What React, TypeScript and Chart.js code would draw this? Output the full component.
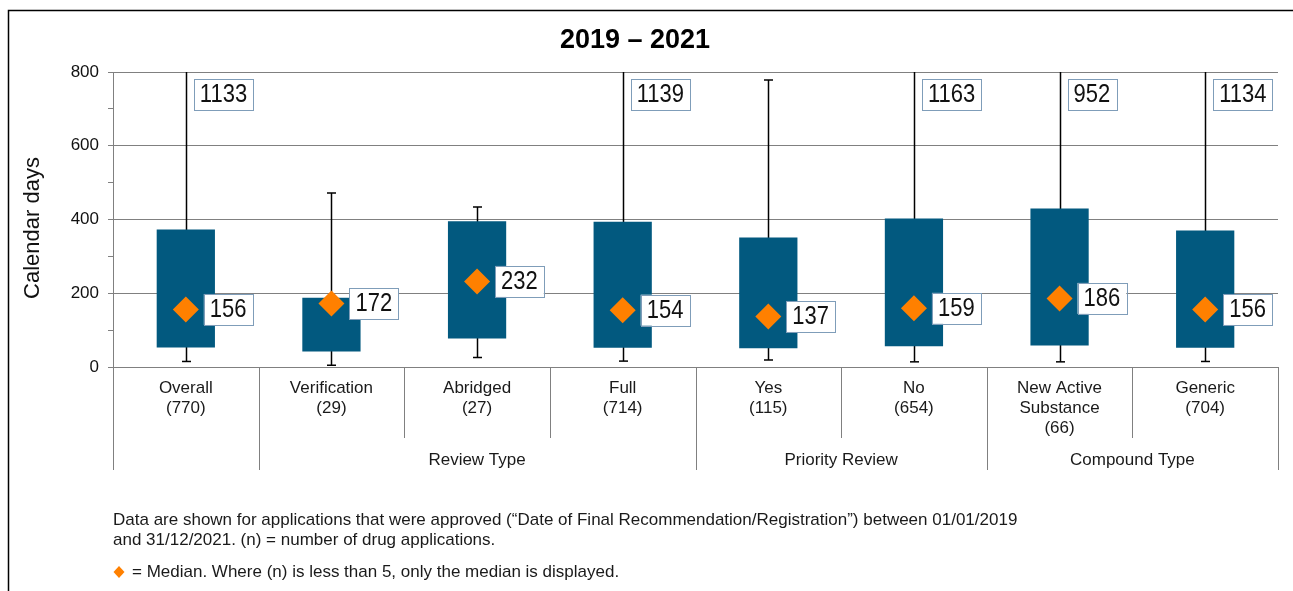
import React, { useEffect, useRef } from 'react';
import { Chart, registerables } from 'chart.js';

Chart.register(...registerables);

// ---- data ----
const categoryLines: string[][] = [
  ['Overall', '(770)'],
  ['Verification', '(29)'],
  ['Abridged', '(27)'],
  ['Full', '(714)'],
  ['Yes', '(115)'],
  ['No', '(654)'],
  ['New Active', 'Substance', '(66)'],
  ['Generic', '(704)'],
];
const categories = categoryLines.map((l) => l.join(' '));
const q1Values = [53, 42, 77, 52, 51, 56, 58, 52];
const q3Values = [373, 188, 395, 394, 351, 403, 430, 370];
const minValues = [15, 5, 26, 16, 19, 14, 14, 15];
const maxValues = [1133, 472, 434, 1139, 778, 1163, 952, 1134];
const medianValues = [156, 172, 232, 154, 137, 159, 186, 156];
const groupLabels = ['Review Type', 'Priority Review', 'Compound Type'];
const groupStart = [1, 4, 6];
const groupEnd = [3, 5, 7];
const yMin = 0;
const yMax = 800;
const yStep = 100;
const yLabelStep = 200;
const titleText = '2019 – 2021';
const yTitle = 'Calendar days';
const footLines = [
  'Data are shown for applications that were approved (“Date of Final Recommendation/Registration”) between 01/01/2019',
  'and 31/12/2021. (n) = number of drug applications.',
];
const medianNote = '= Median. Where (n) is less than 5, only the median is displayed.';

const FONT = '"Liberation Sans", Arial, sans-serif';
const BOX_COLOR = '#02597F';
const MEDIAN_COLOR = '#FF8000';
const GRID_COLOR = '#808080';
const LABEL_BORDER = '#7F9DB9';

function scaledText(ctx: CanvasRenderingContext2D, text: string, x: number, y: number, sx: number) {
  ctx.save();
  ctx.translate(x, y);
  ctx.scale(sx, 1);
  ctx.fillText(text, 0, 0);
  ctx.restore();
}

const boxPlotPlugin = {
  id: 'boxPlotExtras',
  beforeDatasetsDraw(chart: any) {
    const ctx: CanvasRenderingContext2D = chart.ctx;
    const xs = chart.scales.x;
    const ys = chart.scales.y;
    ctx.save();
    ctx.strokeStyle = '#000';
    ctx.lineWidth = 1.5;
    for (let i = 0; i < categories.length; i++) {
      const cx = Math.round(xs.getPixelForValue(i)) + 0.5;
      const top = ys.getPixelForValue(Math.min(maxValues[i], yMax));
      const bot = ys.getPixelForValue(minValues[i]);
      ctx.beginPath();
      ctx.moveTo(cx, top);
      ctx.lineTo(cx, bot);
      ctx.stroke();
      ctx.beginPath();
      ctx.moveTo(cx - 4.5, bot);
      ctx.lineTo(cx + 4.5, bot);
      if (maxValues[i] <= yMax) {
        ctx.moveTo(cx - 4.5, top);
        ctx.lineTo(cx + 4.5, top);
      }
      ctx.stroke();
    }
    ctx.restore();
  },
  afterDatasetsDraw(chart: any) {
    const ctx: CanvasRenderingContext2D = chart.ctx;
    const xs = chart.scales.x;
    const ys = chart.scales.y;
    const area = chart.chartArea;
    ctx.save();
    ctx.font = `25px ${FONT}`;
    ctx.textBaseline = 'middle';
    ctx.textAlign = 'left';
    const sx = 0.88;
    const drawBox = (text: string, x0: number, yc: number) => {
      const w = ctx.measureText(text).width * sx + 12;
      const h = 31;
      ctx.fillStyle = '#fff';
      ctx.fillRect(x0, yc - h / 2, w, h);
      ctx.strokeStyle = LABEL_BORDER;
      ctx.lineWidth = 1;
      ctx.strokeRect(Math.round(x0) + 0.5, Math.round(yc - h / 2) + 0.5, Math.round(w), h);
      ctx.fillStyle = '#111';
      scaledText(ctx, text, x0 + 6, yc + 1, sx);
    };
    for (let i = 0; i < categories.length; i++) {
      const cx = xs.getPixelForValue(i);
      drawBox(String(medianValues[i]), cx + 18, ys.getPixelForValue(medianValues[i]));
      if (maxValues[i] > yMax) {
        drawBox(String(maxValues[i]), cx + 8, area.top + 22.5);
      }
    }
    ctx.restore();
  },
  afterDraw(chart: any) {
    const ctx: CanvasRenderingContext2D = chart.ctx;
    const xs = chart.scales.x;
    const area = chart.chartArea;
    const n = categories.length;
    const cw = (area.right - area.left) / n;
    ctx.save();
    // frame
    ctx.strokeStyle = '#000';
    ctx.lineWidth = 1.5;
    ctx.beginPath();
    ctx.moveTo(8.5, chart.height);
    ctx.lineTo(8.5, 10.5);
    ctx.lineTo(chart.width, 10.5);
    ctx.stroke();

    // title
    ctx.fillStyle = '#000';
    ctx.font = `bold 27px ${FONT}`;
    ctx.textAlign = 'center';
    ctx.textBaseline = 'alphabetic';
    ctx.fillText(titleText, 635, 48);

    // y title
    ctx.save();
    ctx.translate(33, 228);
    ctx.rotate(-Math.PI / 2);
    ctx.font = `22px ${FONT}`;
    ctx.textBaseline = 'middle';
    ctx.fillStyle = '#111';
    ctx.fillText(yTitle, 0, 0);
    ctx.restore();

    // category separators
    const groupBounds = new Set<number>([0, n]);
    for (let g = 0; g < groupLabels.length; g++) {
      groupBounds.add(groupStart[g]);
      groupBounds.add(groupEnd[g] + 1);
    }
    ctx.strokeStyle = GRID_COLOR;
    ctx.lineWidth = 1;
    for (let k = 0; k <= n; k++) {
      const x = Math.round(area.left + k * cw) + 0.5;
      const y2 = groupBounds.has(k) ? 470 : 438;
      ctx.beginPath();
      ctx.moveTo(x, area.bottom);
      ctx.lineTo(x, y2);
      ctx.stroke();
    }

    // category labels
    ctx.fillStyle = '#1a1a1a';
    ctx.font = `17px ${FONT}`;
    ctx.textAlign = 'center';
    ctx.textBaseline = 'middle';
    for (let i = 0; i < n; i++) {
      const cx = xs.getPixelForValue(i);
      categoryLines[i].forEach((line, j) => {
        ctx.fillText(line, cx, 388 + j * 20);
      });
    }
    for (let g = 0; g < groupLabels.length; g++) {
      const x = (area.left + groupStart[g] * cw + area.left + (groupEnd[g] + 1) * cw) / 2;
      ctx.fillText(groupLabels[g], x, 460);
    }

    // footnotes
    ctx.textAlign = 'left';
    ctx.font = `17px ${FONT}`;
    ctx.fillStyle = '#1a1a1a';
    footLines.forEach((l, j) => ctx.fillText(l, 113, 520 + j * 20));
    ctx.fillStyle = MEDIAN_COLOR;
    ctx.beginPath();
    ctx.moveTo(119, 566);
    ctx.lineTo(124.5, 572);
    ctx.lineTo(119, 578);
    ctx.lineTo(113.5, 572);
    ctx.closePath();
    ctx.fill();
    ctx.fillStyle = '#1a1a1a';
    ctx.fillText(medianNote, 132, 572);
    ctx.restore();
  },
};

export default function App() {
  const ref = useRef<HTMLCanvasElement | null>(null);
  useEffect(() => {
    if (!ref.current) return;
    const chart = new Chart(ref.current, {
      type: 'bar',
      data: {
        labels: categories,
        datasets: [
          {
            type: 'bar',
            data: q1Values.map((v, i) => [v, q3Values[i]]) as any,
            backgroundColor: BOX_COLOR,
            borderWidth: 0,
            barPercentage: 0.4,
            categoryPercentage: 1,
            order: 2,
          },
          {
            type: 'line',
            data: medianValues,
            showLine: false,
            pointStyle: 'rectRot',
            pointRadius: 13,
            pointBackgroundColor: MEDIAN_COLOR,
            pointBorderWidth: 0,
            borderColor: MEDIAN_COLOR,
            backgroundColor: MEDIAN_COLOR,
            order: 1,
          } as any,
        ],
      },
      options: {
        animation: false,
        responsive: false,
        devicePixelRatio: 1,
        layout: { padding: { left: 0, right: 15, top: 72, bottom: 224 } },
        plugins: {
          legend: { display: false },
          tooltip: { enabled: false },
          title: { display: false },
        },
        scales: {
          x: { display: false, offset: true },
          y: {
            min: yMin,
            max: yMax,
            afterFit: (s: any) => {
              s.width = 113;
            },
            ticks: {
              stepSize: yStep,
              padding: 9,
              color: '#111',
              font: { family: FONT, size: 17 },
              callback: (v: any) => (Number(v) % yLabelStep === 0 ? String(v) : ''),
            },
            grid: {
              color: (c: any) => (c.tick && c.tick.value % yLabelStep === 0 ? GRID_COLOR : 'rgba(0,0,0,0)'),
              tickColor: GRID_COLOR,
              tickLength: 5,
              lineWidth: 1,
            },
            border: { display: true, color: GRID_COLOR, width: 1 },
          },
        },
      },
      plugins: [boxPlotPlugin],
    });
    return () => chart.destroy();
  }, []);
  return (
    <div style={{ position: 'fixed', left: 0, top: 0, width: 1293, height: 591, background: '#fff' }}>
      <canvas ref={ref} width={1293} height={591} />
    </div>
  );
}
